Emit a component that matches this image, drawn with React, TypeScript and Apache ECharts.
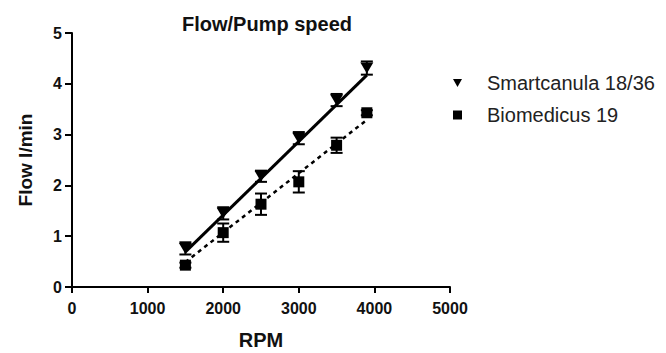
import React, { useEffect, useRef } from "react";
import * as echarts from "echarts";

const rpm = [1500, 2000, 2500, 3000, 3500, 3900];
const smartMean = [0.76, 1.45, 2.18, 2.93, 3.68, 4.31];
const smartErr = [0.12, 0.12, 0.11, 0.12, 0.12, 0.13];
const bioMean = [0.43, 1.07, 1.63, 2.07, 2.79, 3.43];
const bioErr = [0.05, 0.18, 0.21, 0.21, 0.15, 0.05];
const smartFit = [[1500, 0.69], [3900, 4.17]];
const bioFit = [[1500, 0.49], [3900, 3.29]];
const xTicks = [0, 1000, 2000, 3000, 4000, 5000];
const yTicks = [0, 1, 2, 3, 4, 5];

const TRI = "path://M0,0 L10,0 L5,9 Z";
const FONT = "Liberation Sans, Arial, sans-serif";
const INK = "#000";

function errorSeries(mean: number[], err: number[]) {
  return {
    type: "custom",
    silent: true,
    z: 3,
    data: rpm.map((x, i) => [x, mean[i] - err[i], mean[i] + err[i]]),
    renderItem: (params: any, api: any) => {
      const x = api.value(0);
      const lo = api.coord([x, api.value(1)]);
      const hi = api.coord([x, api.value(2)]);
      const w = 6;
      const style = { stroke: INK, lineWidth: 2 };
      return {
        type: "group",
        children: [
          { type: "line", shape: { x1: lo[0], y1: lo[1], x2: hi[0], y2: hi[1] }, style },
          { type: "line", shape: { x1: lo[0] - w, y1: lo[1], x2: lo[0] + w, y2: lo[1] }, style },
          { type: "line", shape: { x1: hi[0] - w, y1: hi[1], x2: hi[0] + w, y2: hi[1] }, style },
        ],
      };
    },
  };
}

export default function App() {
  const ref = useRef<HTMLDivElement>(null);
  useEffect(() => {
    const chart = echarts.init(ref.current!, null, { renderer: "svg" });
    chart.setOption({
      animation: false,
      backgroundColor: "#fff",
      title: {
        text: "Flow/Pump speed",
        left: 254,
        top: 1,
        textAlign: "center",
        textStyle: { fontFamily: FONT, fontWeight: "bold", fontSize: 20, color: "#111" },
      },
      legend: {
        orient: "vertical",
        left: 440,
        top: 60,
        itemGap: 12,
        itemWidth: 9,
        itemHeight: 9,
        textStyle: { fontFamily: FONT, fontSize: 20, color: "#222", padding: [0, 0, 0, 20] },
        data: [
          { name: "Smartcanula 18/36", icon: TRI },
          { name: "Biomedicus 19", icon: "rect" },
        ],
      },
      grid: { left: 59, right: 224, top: 25, bottom: 74 },
      xAxis: {
        type: "value",
        min: 0,
        max: 5000,
        interval: 1000,
        name: "RPM",
        nameLocation: "middle",
        nameGap: 43,
        nameTextStyle: { fontFamily: FONT, fontWeight: "bold", fontSize: 20, color: "#111" },
        axisLine: { lineStyle: { color: INK, width: 2 } },
        axisTick: { show: true, length: 6, lineStyle: { color: INK, width: 2 } },
        axisLabel: {
          fontFamily: FONT, fontWeight: "bold", fontSize: 16, color: "#111", margin: 13,
          formatter: (v: number) => (xTicks.includes(v) ? String(v) : ""),
        },
        splitLine: { show: false },
      },
      yAxis: {
        type: "value",
        min: 0,
        max: 5,
        interval: 1,
        name: "Flow l/min",
        nameLocation: "middle",
        nameGap: 37,
        nameTextStyle: { fontFamily: FONT, fontWeight: "bold", fontSize: 19, color: "#111" },
        axisLine: { show: true, lineStyle: { color: INK, width: 2 } },
        axisTick: { show: true, length: 7, lineStyle: { color: INK, width: 2 } },
        axisLabel: {
          fontFamily: FONT, fontWeight: "bold", fontSize: 16, color: "#111", margin: 10,
          formatter: (v: number) => (yTicks.includes(v) ? String(v) : ""),
        },
        splitLine: { show: false },
      },
      series: [
        {
          type: "line",
          data: smartFit,
          showSymbol: false,
          silent: true,
          lineStyle: { color: INK, width: 3, type: "solid" },
          z: 2,
        },
        {
          type: "line",
          data: bioFit,
          showSymbol: false,
          silent: true,
          lineStyle: { color: INK, width: 2.5, type: [4, 4] },
          z: 2,
        },
        errorSeries(smartMean, smartErr),
        errorSeries(bioMean, bioErr),
        {
          name: "Smartcanula 18/36",
          type: "scatter",
          symbol: TRI,
          symbolSize: [13, 11],
          itemStyle: { color: INK, opacity: 1 },
          data: rpm.map((x, i) => [x, smartMean[i]]),
          z: 4,
        },
        {
          name: "Biomedicus 19",
          type: "scatter",
          symbol: "rect",
          symbolSize: 11,
          itemStyle: { color: INK, opacity: 1 },
          data: rpm.map((x, i) => [x, bioMean[i]]),
          z: 4,
        },
      ],
    });
    return () => chart.dispose();
  }, []);
  return <div ref={ref} style={{ width: 666, height: 353 }} />;
}
